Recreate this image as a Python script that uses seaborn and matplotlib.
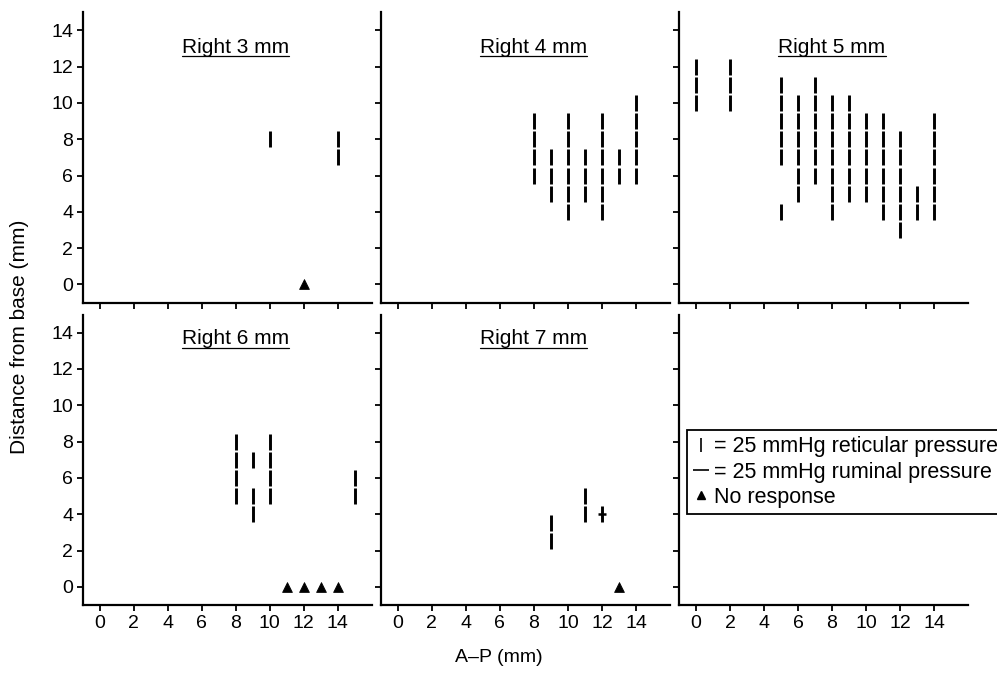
import seaborn as sns
import matplotlib
matplotlib.use("Agg")
import matplotlib.pyplot as plt
from matplotlib.lines import Line2D
import pandas as pd

# columns of the A-P axis with the y positions of reticular marks
r3_cols = [10, 14]
r3_ys = [[8], [8, 7]]
r3_none_x = [12]
r3_none_y = [0]

r4_cols = [8, 9, 10, 11, 12, 13, 14]
r4_ys = [[9, 8, 7, 6], [7, 6, 5], [9, 8, 7, 6, 5, 4], [7, 6, 5],
         [9, 8, 7, 6, 5, 4], [7, 6], [10, 9, 8, 7, 6]]

r5_cols = [0, 2, 5, 6, 7, 8, 9, 10, 11, 12, 13, 14]
r5_ys = [[12, 11, 10], [12, 11, 10], [11, 10, 9, 8, 7, 4], [10, 9, 8, 7, 6, 5],
         [11, 10, 9, 8, 7, 6], [10, 9, 8, 7, 6, 5, 4], [10, 9, 8, 7, 6, 5],
         [9, 8, 7, 6, 5], [9, 8, 7, 6, 5, 4], [8, 7, 6, 5, 4, 3], [5, 4],
         [9, 8, 7, 6, 5, 4]]

r6_cols = [8, 9, 10, 15]
r6_ys = [[8, 7, 6, 5], [7, 5, 4], [8, 7, 6, 5], [6, 5]]
r6_none_x = [11, 12, 13, 14]
r6_none_y = [0, 0, 0, 0]

r7_cols = [9, 11, 12]
r7_ys = [[3.5, 2.5], [5, 4], [4]]
r7_rum_x = [12]
r7_rum_y = [4]
r7_none_x = [13]
r7_none_y = [0]

titles = ["Right 3 mm", "Right 4 mm", "Right 5 mm", "Right 6 mm", "Right 7 mm"]

rows = []
for name, cols, ys in [("Right 3 mm", r3_cols, r3_ys), ("Right 4 mm", r4_cols, r4_ys),
                       ("Right 5 mm", r5_cols, r5_ys), ("Right 6 mm", r6_cols, r6_ys),
                       ("Right 7 mm", r7_cols, r7_ys)]:
    for c, yl in zip(cols, ys):
        for y in yl:
            rows.append((name, c, y, "ret"))
for name, xs, ys, kind in [("Right 3 mm", r3_none_x, r3_none_y, "none"),
                           ("Right 6 mm", r6_none_x, r6_none_y, "none"),
                           ("Right 7 mm", r7_none_x, r7_none_y, "none"),
                           ("Right 7 mm", r7_rum_x, r7_rum_y, "rum")]:
    for x, y in zip(xs, ys):
        rows.append((name, x, y, kind))
df = pd.DataFrame(rows, columns=["panel", "x", "y", "kind"])

sns.set_theme(style="ticks")
plt.rcParams["font.family"] = ["Liberation Sans", "DejaVu Sans"]
plt.rcParams["text.color"] = "black"
plt.rcParams["axes.labelcolor"] = "black"
plt.rcParams["xtick.color"] = "black"
plt.rcParams["ytick.color"] = "black"

fig, axes = plt.subplots(2, 3, figsize=(9.97, 6.73), dpi=100, sharex=True, sharey=True)
fig.subplots_adjust(left=0.083, right=0.971, top=0.982, bottom=0.101,
                    wspace=0.031, hspace=0.041)
axes = axes.ravel()

title_y = [12.73, 12.73, 12.73, 13.35, 13.35]

for i, ax in enumerate(axes):
    ax.set_xlim(-1, 16)
    ax.set_ylim(-1, 15)
    ax.set_xticks(range(0, 15, 2))
    ax.set_yticks(range(0, 15, 2))
    ax.tick_params(direction="out", length=4, width=1.3, labelsize=14,
                   colors="black", pad=3)
    for s in ["left", "bottom"]:
        ax.spines[s].set_linewidth(1.6)
        ax.spines[s].set_color("black")
    sns.despine(ax=ax)
    if i >= len(titles):
        continue
    d = df[df.panel == titles[i]]
    ret = d[d.kind == "ret"]
    rum = d[d.kind == "rum"]
    non = d[d.kind == "none"]
    if len(ret):
        sns.scatterplot(data=ret, x="x", y="y", marker="|", s=125, linewidth=2.1,
                        color="black", ax=ax, legend=False)
    if len(rum):
        sns.scatterplot(data=rum, x="x", y="y", marker="_", s=30, linewidth=1.8,
                        color="black", ax=ax, legend=False)
    if len(non):
        sns.scatterplot(data=non, x="x", y="y", marker="^", s=50, color="black",
                        edgecolor="black", ax=ax, legend=False)
    ax.text(8.0, title_y[i], titles[i], ha="center", va="baseline", fontsize=15)

for ax in axes:
    ax.set_xlabel("")
    ax.set_ylabel("")

# underline the panel titles
fig.canvas.draw()
renderer = fig.canvas.get_renderer()
for i in range(len(titles)):
    ax = axes[i]
    t = ax.texts[0]
    bb = t.get_window_extent(renderer).transformed(ax.transData.inverted())
    ax.plot([bb.x0, bb.x1], [title_y[i] - 0.17] * 2, color="black", lw=0.9)

handles = [
    Line2D([], [], marker="|", ls="none", color="black", markersize=10, mew=1.2),
    Line2D([], [], marker="_", ls="none", color="black", markersize=12, mew=1.2),
    Line2D([], [], marker="^", ls="none", color="black", markersize=6),
]
labels = ["= 25 mmHg reticular pressure", "= 25 mmHg ruminal pressure", "No response"]
leg = axes[5].legend(handles, labels, loc="upper left", bbox_to_anchor=(0.028, 0.603),
                     fontsize=15.5, handlelength=0.7, handletextpad=0.25,
                     borderpad=0.3, labelspacing=0.2, borderaxespad=0,
                     fancybox=False, framealpha=1, edgecolor="black")
leg.get_frame().set_linewidth(1.3)

fig.supxlabel("A\u2013P (mm)", fontsize=14, y=0.01)
fig.supylabel("Distance from base (mm)", fontsize=15, x=0.01)

fig.savefig("out.png", dpi=100)
